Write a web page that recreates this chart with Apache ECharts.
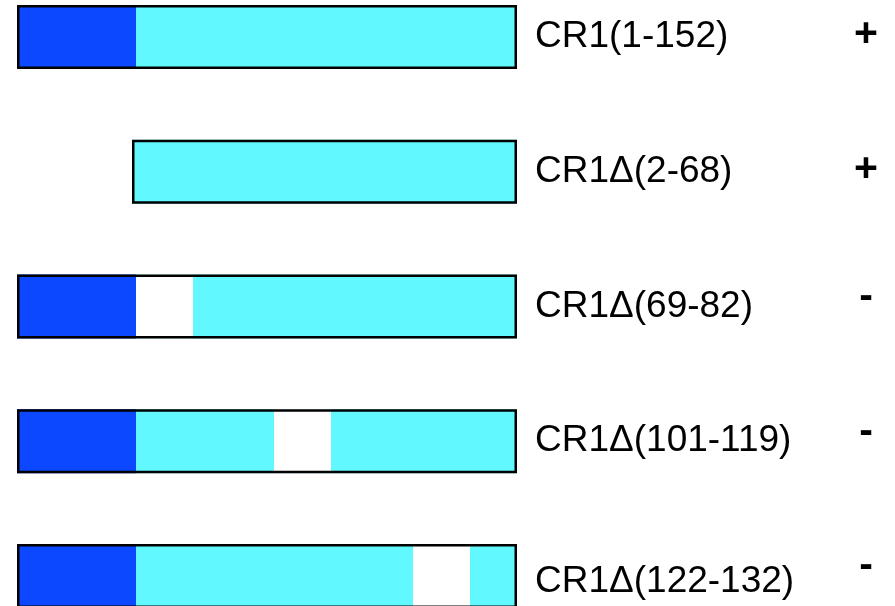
<!DOCTYPE html>
<html>
<head>
<meta charset="utf-8">
<script src="https://cdn.jsdelivr.net/npm/echarts@6/dist/echarts.min.js"></script>
<style>
  html, body { margin: 0; padding: 0; background: #fff; }
  #main { width: 895px; height: 606px; }
</style>
</head>
<body>
<div id="main"></div>
<script>
// construct names, top to bottom
var constructs = ["CR1(1-152)", "CR1\u0394(2-68)", "CR1\u0394(69-82)", "CR1\u0394(101-119)", "CR1\u0394(122-132)"];
// binding result for each construct
var results = ["+", "+", "-", "-", "-"];
// schematic segments (drawing units 0-500): [row, start, end, kind]
// kind 0 = N-terminal domain (dark), 1 = rest (cyan), 2 = deletion (white)
var segments = [
  [0, 0, 119, 0], [0, 119, 500, 1],
  [1, 115, 500, 1],
  [2, 0, 119, 0], [2, 119, 500, 1], [2, 119, 176, 2],
  [3, 0, 119, 0], [3, 119, 500, 1], [3, 257, 314, 2],
  [4, 0, 119, 0], [4, 119, 500, 1], [4, 396, 453, 2]
];
// outline of each construct: [row, start, end]
var outlines = [[0, 0, 500], [1, 115, 500], [2, 0, 500], [3, 0, 500], [4, 0, 500]];

var kindColors = ["#0b48ff", "#62f8ff", "#ffffff"];
var barH = 64;
var font = "Liberation Sans, Arial, sans-serif";

var chart = echarts.init(document.getElementById("main"));

function rectOf(api) {
  var y = api.value(0);
  var s = api.coord([api.value(1), y]);
  var e = api.coord([api.value(2), y]);
  return { x: s[0], y: s[1] - barH / 2, width: e[0] - s[0], height: barH };
}

var option = {
  animation: false,
  grid: { left: 17, width: 500, top: 37, height: 539 },
  xAxis: { type: "value", min: 0, max: 500, show: false },
  yAxis: [
    {
      type: "category",
      data: constructs,
      inverse: true,
      boundaryGap: false,
      position: "right",
      axisLine: { show: false },
      axisTick: { show: false },
      splitLine: { show: false },
      axisLabel: {
        margin: 18,
        color: "#000",
        formatter: function (v, i) {
          return i === 4 ? "{low|" + v + "}" : "{n|" + v + "}";
        },
        rich: {
          n: { fontSize: 37, fontFamily: font },
          low: { fontSize: 37, fontFamily: font, padding: [12, 0, 0, 0] }
        }
      }
    },
    {
      type: "category",
      data: results,
      inverse: true,
      boundaryGap: false,
      position: "right",
      axisLine: { show: false },
      axisTick: { show: false },
      splitLine: { show: false },
      axisLabel: {
        margin: 349,
        align: "center",
        color: "#000",
        formatter: function (v) {
          return v === "+" ? "{p|+}" : "{m|-}";
        },
        rich: {
          p: { fontSize: 41, fontWeight: "bold", fontFamily: font, padding: [0, 0, 4, 0] },
          m: { fontSize: 41, fontWeight: "bold", fontFamily: font, padding: [0, 0, 20, 0] }
        }
      }
    }
  ],
  series: [
    {
      type: "custom",
      data: segments,
      encode: { x: [1, 2], y: 0 },
      renderItem: function (params, api) {
        return {
          type: "rect",
          shape: rectOf(api),
          style: { fill: kindColors[api.value(3)] }
        };
      }
    },
    {
      type: "custom",
      data: outlines,
      encode: { x: [1, 2], y: 0 },
      renderItem: function (params, api) {
        var r = rectOf(api);
        return {
          type: "rect",
          shape: { x: r.x + 1.25, y: r.y + 1.25, width: r.width - 2.5, height: r.height - 2.5 },
          style: { fill: null, stroke: "#000", lineWidth: 2.5 }
        };
      }
    }
  ]
};

chart.setOption(option);
</script>
</body>
</html>
